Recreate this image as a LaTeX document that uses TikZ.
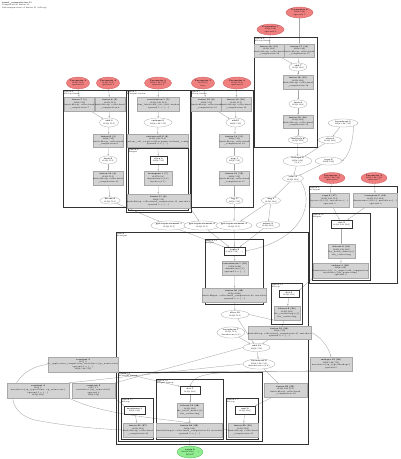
\documentclass[tikz,border=0pt]{standalone}
\usetikzlibrary{shapes.geometric,arrows.meta,backgrounds}
\definecolor{parfill}{HTML}{F08080}
\definecolor{parline}{HTML}{C85A5A}
\definecolor{rootfill}{HTML}{90EE90}
\definecolor{rootline}{HTML}{50B050}
\definecolor{gfill}{HTML}{D3D3D3}
\definecolor{gline}{HTML}{A8A8A8}
\newcommand{\ts}{\fontsize{2}{2.45}\selectfont}
\newcommand{\N}[7]{\node[#1,minimum width=#5pt,minimum height=#6pt] (#2) at (#3,#4) {#7};}
\newcommand{\CL}[6]{\draw[clus] (#1,#2) rectangle (#3,#4); \node[clab] at (#1+1,#2+0.9) {#5\\#6};}
\tikzset{
  base/.style={inner sep=0pt, align=center, font=\ts},
  gbox/.style={base, rectangle, draw=gline, line width=0.3pt, fill=gfill},
  wbox/.style={base, rectangle, draw=black!80, line width=0.35pt, fill=white},
  ell/.style={base, ellipse, draw=gray!70, line width=0.3pt, fill=white},
  par/.style={base, ellipse, draw=parline, line width=0.3pt, fill=parfill},
  rootn/.style={base, ellipse, draw=rootline, line width=0.3pt, fill=rootfill},
  clus/.style={draw=black!80, line width=0.9pt},
  clab/.style={anchor=north west, inner sep=0pt, align=left, font=\ts},
  e/.style={-{Stealth[length=1.8pt,width=1.3pt]}, draw=gray!70, line width=0.35pt},
}
\begin{document}
\begin{tikzpicture}[x=1pt,y=-1pt]
\useasboundingbox (0,0) rectangle (400,459);
% header
\node[clab] (hdr) at (2,1.5) {\textbf{fused\_computation.11}\\Computation fusion.11\\Subcomputation of fusion.11 (kLoop)};

% ---------------- clusters ----------------
\CL{63}{90}{128}{207}{fusion.4}{kLoop fusion}
\CL{126}{90}{191}{212}{fusion.5}{kOutput fusion}
\CL{128}{148}{188}{210}{fusion.6}{kInput}
\CL{190}{90}{253}{207}{fusion.7}{kLoop fusion}
\CL{254}{37}{317}{147}{fusion.8}{kLoop fusion}
\CL{309}{186}{397}{283}{fusion.9}{kOutput}
\CL{312}{213}{370}{280}{fusion.10}{kInput}
\CL{116}{232}{308}{444}{fusion}{kOutput}
\CL{205}{239}{263}{304}{fusion.12}{kInput}
\CL{271}{283}{302}{324}{fusion.13}{kLoop}
\CL{118}{372}{262}{441}{fusion.14}{kOutput fusion}
\CL{121}{398}{153}{439}{fusion.15}{kLoop}
\CL{156}{379}{223}{439}{fusion.16}{kInput fusion}
\CL{226}{398}{258}{439}{fusion.17}{kLoop}

% ---------------- cluster 1 ----------------
\N{par}{r1a}{78}{83}{20}{12}{\textbf{Parameter 3}\\f32[8,512]\\operand 0}
\N{par}{r1b}{108}{83}{20}{12}{\textbf{Parameter 4}\\f32[8,512]\\operand 1}
\N{gbox}{g1a}{79.5}{104}{27}{14}{\textbf{fusion.7 (1)}\\f32[8,512]\\kind=kLoop, calls=fused\\\_computation.7}
\N{gbox}{g1b}{110}{104}{30}{14}{\textbf{fusion.8 (2)}\\f32[8,512]\\kind=kLoop, calls=fused\\\_computation.8}
\N{ell}{e1a}{109}{122.5}{19}{9}{\textbf{add.3}\\f32[8,512]}
\N{gbox}{g1c}{108.5}{140.5}{29}{13}{\textbf{fusion.9 (3)}\\f32[8,512]\\kind=kLoop, calls=fused\\\_computation.9}
\N{ell}{e1b}{108}{160}{18}{8}{\textbf{tanh.2}\\f32[8,512]}
\N{gbox}{g1d}{108}{178}{30}{14}{\textbf{fusion.10 (4)}\\f32[8,512]\\kind=kLoop, calls=fused\\\_computation.10}
\N{ell}{e1c}{110}{200.5}{20}{7}{\textbf{divide.4}\\f32[8,512]}

% ---------------- cluster 2 ----------------
\N{par}{r2}{158}{83}{27}{12}{\textbf{Parameter 0}\\f32[8,128,512]\\operand 2}
\N{gbox}{g2a}{158.5}{104}{41}{14}{\textbf{convolution.1 (5)}\\f32[8,128,512]\\dim\_labels=b0f\_0io->b0f, window\\operand 1 = \{...\}}
\N{ell}{e2a}{158}{122.5}{28}{9}{\textbf{reshape.5}\\f32[8,128,512]}
\N{gbox}{g2b}{157.5}{140.5}{51}{13}{\textbf{custom-call.2 (6)}\\f32[8,128,512]\\custom\_call\_target=cublas-gemm, backend\_config\\operand 0 = \{...\}}
\N{wbox}{w2}{158.5}{160}{17}{8}{\textbf{slice.3}\\f32[8,512]}
\N{gbox}{g2c}{158}{178}{28}{14}{\textbf{transpose.1 (7)}\\f32[512,8]\\dimensions=\{1,0\}\\layout=\{0,1\}}
\N{gbox}{g2d}{158.5}{201}{53}{14}{\textbf{fusion.11 (8)}\\f32[8,512]\\kind=kLoop, calls=fused\_computation.11, metadata\\operand 1 = \{...\}}

% ---------------- cluster 3 ----------------
\N{par}{r3a}{203}{83}{20}{12}{\textbf{Parameter 5}\\f32[512]\\bias}
\N{par}{r3b}{237}{83}{28}{12}{\textbf{Parameter 6}\\f32[8,512]\\operand 3}
\N{gbox}{g3a}{206.5}{104}{27}{14}{\textbf{fusion.12 (9)}\\f32[8,512]\\kind=kLoop, calls=fused\\\_computation.12}
\N{gbox}{g3b}{236}{104}{28}{14}{\textbf{fusion.13 (10)}\\f32[8,512]\\kind=kLoop, calls=fused\\\_computation.13}
\N{ell}{e3a}{235.5}{122.5}{19}{9}{\textbf{add.5}\\f32[8,512]}
\N{gbox}{g3c}{234.5}{140.5}{29}{13}{\textbf{fusion.14 (11)}\\f32[8,512]\\kind=kLoop, calls=fused\\\_computation.14}
\N{ell}{e3b}{234.5}{160}{17}{8}{\textbf{exp.1}\\f32[8,512]}
\N{gbox}{g3d}{234.5}{178}{29}{14}{\textbf{fusion.15 (12)}\\f32[8,512]\\kind=kLoop, calls=fused\\\_computation.15}
\N{ell}{e3c}{234.5}{200.5}{17}{7}{\textbf{log.2}\\f32[8,512]}

% ---------------- cluster 4 ----------------
\N{par}{r4a}{270.5}{29.5}{27}{11}{\textbf{Parameter 7}\\f32[8,128]\\operand 4}
\N{par}{r4b}{299.5}{12.5}{27}{11}{\textbf{Parameter 8}\\f32[8,128]\\operand 5}
\N{gbox}{g4a}{269}{50.5}{26}{13}{\textbf{fusion.16 (13)}\\f32[8,128]\\kind=kLoop, calls=fused\\\_computation.16}
\N{gbox}{g4b}{299.5}{50.5}{29}{13}{\textbf{fusion.17 (14)}\\f32[8,128]\\kind=kLoop, calls=fused\\\_computation.17}
\N{ell}{e4a}{298}{67}{18}{8}{\textbf{add.7}\\f32[8,128]}
\N{gbox}{g4c}{298}{82}{30}{14}{\textbf{fusion.18 (15)}\\f32[8,128]\\kind=kLoop, calls=fused\\\_computation.18}
\N{ell}{e4b}{298}{104}{18}{8}{\textbf{tanh.4}\\f32[8,128]}
\N{gbox}{g4d}{298}{121.5}{30}{13}{\textbf{fusion.19 (16)}\\f32[8,128]\\kind=kLoop, calls=fused\\\_computation.19}
\N{ell}{e4c}{298}{140}{20}{7}{\textbf{multiply.8}\\f32[8,128]}

% ---------------- loose right nodes ----------------
\N{ell}{e5a}{343}{123}{30}{8}{\textbf{broadcast.3}\\f32[8,128,512]}
\N{ell}{e5b}{330}{140}{23}{7}{\textbf{slice.6}\\f32[8,128]}
\N{ell}{e5c}{297.5}{161}{29}{10}{\textbf{reshape.9}\\f32[8,128]\\\{1,0\}}
\N{ell}{e5d}{328.5}{161}{27}{8}{\textbf{copy.2}\\f32[8,128]}
\N{ell}{e5e}{293}{178.5}{21}{7}{\textbf{add.11}\\f32[8,128]}
\N{ell}{e5f}{271}{200.5}{19}{7}{\textbf{neg.1}\\f32[8,128]}
\N{ell}{e6a}{169}{225.5}{29}{9}{\textbf{get-tuple-element.1}\\f32[8,512]}
\N{ell}{e6b}{202}{225.5}{29}{9}{\textbf{get-tuple-element.2}\\f32[8,512]}
\N{ell}{e6c}{234}{225.5}{28}{9}{\textbf{get-tuple-element.3}\\f32[8,512]}
\N{ell}{e6d}{268}{225}{24}{7}{\textbf{select.2}\\f32[8,128]}

% ---------------- cluster 5 ----------------
\N{par}{r5a}{332}{178}{26}{11}{\textbf{Parameter 1}\\f32[8,128,512]\\operand 6}
\N{par}{r5b}{374}{178}{26}{11}{\textbf{Parameter 2}\\f32[8,128,512]\\operand 7}
\N{gbox}{g5a}{329.5}{200}{37}{14}{\textbf{copy.4 (17)}\\f32[8,128,512]\\layout=\{2,1,0\}, metadata=\{...\}\\operand 0}
\N{gbox}{g5b}{375.5}{200}{43}{14}{\textbf{transpose.5 (18)}\\f32[8,512,128]\\dimensions=\{0,2,1\}, metadata=\{...\}\\operand 0}
\N{wbox}{w5}{341.5}{224}{21}{8}{\textbf{dot.2}\\f32[8,128,128]}
\N{gbox}{g5c}{341.5}{251}{27}{14}{\textbf{bitcast.6 (19)}\\f32[8,128,128]\\lhs\_batch\_dims=\{0\}\\rhs\_contracting}
\N{gbox}{g5d}{340.5}{270.5}{53}{15}{\textbf{reduce.3 (20)}\\f32[8,128]\\dimensions=\{2\}, to\_apply=add\_computation\\metadata=\{op\_name=sum\}\\operand 0}

% ---------------- cluster 6 ----------------
\N{wbox}{wA}{234.5}{251}{21}{8}{\textbf{tuple.2}\\(f32[8,512], ...)}
\N{gbox}{gA1}{235}{268}{26}{14}{\textbf{concatenate.1 (21)}\\f32[8,2048]\\dimensions=\{1\}\\operand 0 = \{...\}}
\N{gbox}{gA2}{234.5}{295}{53}{14}{\textbf{fusion.20 (22)}\\f32[8,2048]\\kind=kInput, calls=fused\_computation.20, metadata\\operand 1 = \{...\}}
\N{wbox}{wB}{289}{294}{20}{7}{\textbf{dot.5}\\f32[8,128]}
\N{gbox}{gB}{287}{313}{26}{14}{\textbf{bitcast.9 (23)}\\f32[8,128]\\lhs\_contracting=\{1\}\\rhs\_contracting}
\N{ell}{eC1}{235}{314.5}{28}{8}{\textbf{slice.10}\\f32[8,512]}
\N{ell}{eC2}{231}{332.5}{28}{11}{\textbf{broadcast.7}\\f32[8,512]\\dimensions=\{1\}}
\N{gbox}{gC}{279.5}{332.5}{53}{13}{\textbf{fusion.21 (24)}\\f32[8,512]\\kind=kLoop, calls=fused\_computation.21, metadata\\operand 0 = \{...\}}
\N{ell}{eC3}{256.5}{347.5}{27}{8}{\textbf{add.14}\\f32[8,512]}
\N{ell}{eC4}{259}{364}{32}{10}{\textbf{broadcast.9}\\f32[8,128,512]\\dimensions=\{0,2\}}
\N{gbox}{gC2}{285.5}{390.5}{43}{14}{\textbf{fusion.22 (25)}\\f32[8,128,512]\\kind=kLoop, calls=fused\\\_computation.22}
\N{gbox}{gR}{331}{364}{42}{14}{\textbf{reshape.12 (26)}\\f32[8,128,512]\\metadata=\{op\_type=Reshape\}\\operand 0}
\N{gbox}{gL0}{83}{364.5}{66}{15}{\textbf{constant.3}\\f32[] 0\\to\_apply=max\_computation, metadata=\{op\_name=relu\}\\operand 0 = \{...\}\\f32[8,128,512]}
\N{gbox}{gL1}{38}{390.5}{62}{15}{\textbf{constant.4}\\f32[] 1\\metadata=\{op\_type=Const, op\_name=one\}\\operand 1 = \{...\}\\f32[8,128]}
\N{gbox}{gL2}{93.5}{390.5}{43}{15}{\textbf{constant.5}\\f32[] 0.5\\metadata=\{op\_name=half\}\\operand 2\\f32[8,128]}
\N{wbox}{wD}{134.5}{410}{21}{8}{\textbf{maximum.1}\\f32[8,128]}
\N{gbox}{gD}{138}{430}{28}{14}{\textbf{fusion.23 (27)}\\f32[8,128]\\kind=kLoop, calls=fused\\\_computation.23}
\N{wbox}{wE}{190}{390.5}{20}{8}{\textbf{dot.7}\\f32[8,128]}
\N{gbox}{gE1}{190}{410}{26}{14}{\textbf{bitcast.12 (28)}\\f32[8,128]\\lhs\_batch\_dims=\{0\}\\rhs\_contracting}
\N{gbox}{gE2}{189.5}{430}{60}{14}{\textbf{fusion.24 (29)}\\f32[8,128]\\kind=kOutput, calls=fused\_computation.24, metadata\\operand 0 = \{...\}}
\N{wbox}{wF}{245}{410}{20}{8}{\textbf{mul.9}\\f32[8,128]}
\N{gbox}{gF}{243}{430}{28}{14}{\textbf{fusion.25 (30)}\\f32[8,128]\\kind=kLoop, calls=fused\\\_computation.25}
\N{rootn}{root}{190}{452}{26}{12}{\textbf{tuple.9}\\(f32[8,128], ...)\\ROOT}

% ---------------- edges ----------------
\begin{pgfonlayer}{background}
\fill[white] (0,0) rectangle (400,459);
\draw[e] (r1a) -- (g1a); \draw[e] (r1b) -- (g1b);
\draw[e] (g1a) -- (e1a); \draw[e] (g1b) -- (e1a);
\draw[e] (e1a) -- (g1c); \draw[e] (g1c) -- (e1b); \draw[e] (e1b) -- (g1d); \draw[e] (g1d) -- (e1c);
\draw[e] (e1c) -- (e6a);
\draw[e] (r2) -- (g2a); \draw[e] (g2a) -- (e2a); \draw[e] (e2a) -- (g2b); \draw[e] (g2b) -- (w2);
\draw[e] (w2) -- (g2c); \draw[e] (g2c) -- (g2d); \draw[e] (g2d.south east) -- (e6b);
\draw[e] (r3a) -- (g3a); \draw[e] (r3b) -- (g3b);
\draw[e] (g3a) -- (e3a); \draw[e] (g3b) -- (e3a);
\draw[e] (e3a) -- (g3c); \draw[e] (g3c) -- (e3b); \draw[e] (e3b) -- (g3d); \draw[e] (g3d) -- (e3c);
\draw[e] (e3c) -- (e6c);
\draw[e] (r4a) -- (g4a); \draw[e] (r4b) -- (g4b);
\draw[e] (g4a) -- (e4a); \draw[e] (g4b) -- (e4a);
\draw[e] (e4a) -- (g4c); \draw[e] (g4c) -- (e4b); \draw[e] (e4b) -- (g4d); \draw[e] (g4d) -- (e4c);
\draw[e] (e4c) -- (e5c); \draw[e] (e5a) -- (e5b); \draw[e] (e5b) -- (e5c);
\draw[e] (e5a.south east) .. controls (353,135) and (352,152) .. (e5d.east);
\draw[e] (e5c) -- (e5e); \draw[e] (e5d) -- (e5e);
\draw[e] (e5e) -- (e5f); \draw[e] (e5f) -- (e6d); \draw[e] (e5f) -- (e6c);
\draw[e] (e5e.south east) .. controls (314,200) and (306,240) .. (wA.east);
\draw[e] (e6a) -- (wA); \draw[e] (e6b) -- (wA); \draw[e] (e6c) -- (wA); \draw[e] (e6d) -- (wA);
\draw[e] (r5a) -- (g5a); \draw[e] (r5b) -- (g5b);
\draw[e] (g5a) -- (w5); \draw[e] (g5b) -- (w5);
\draw[e] (w5) -- (g5c); \draw[e] (g5c) -- (g5d);
\draw[e] (g5d.south west) -- (wB.north east);
\draw[e] (wA) -- (gA1); \draw[e] (gA1) -- (gA2); \draw[e] (gA2) -- (eC1);
\draw[e] (wB) -- (gB); \draw[e] (gB) -- (gC);
\draw[e] (eC1.east) -- (gB.south west);
\draw[e] (eC1) -- (eC3); \draw[e] (eC2) -- (eC3); \draw[e] (gC) -- (eC3);
\draw[e] (eC3) -- (eC4);
\draw[e] (gC.east) .. controls (318,335) and (328,345) .. (gR.north);
\draw[e] (eC4) -- (gC2);
\draw[e] (gC2) -- (wF.north east);
\draw[e] (gR.south west) -- (gL0.south east);
\draw[e] (gR.south west) .. controls (220,371.5) and (195,371) .. (wE.north);
\draw[e] (gL0.south east) -- (wE.north west);
\draw[e] (eC3.west) -- (gL2.north east);
\draw[e] (eC4.west) -- (gL1.north east);
\draw[e] (gL1.south east) .. controls (110,419) and (190,419) .. (gF.west);
\draw[e] (wD.north west) -- (gL2.south east);
\draw[e] (gL0.west) .. controls (10,368) and (-4,414) .. (40,421) .. controls (80,428) and (105,429) .. (gD.west);
\draw[e] (wD) -- (gD); \draw[e] (wE) -- (gE1); \draw[e] (gE1) -- (gE2);
\draw[e] (wF) -- (gF); \draw[e] (gE2) -- (root);
\end{pgfonlayer}
\end{tikzpicture}
\end{document}
